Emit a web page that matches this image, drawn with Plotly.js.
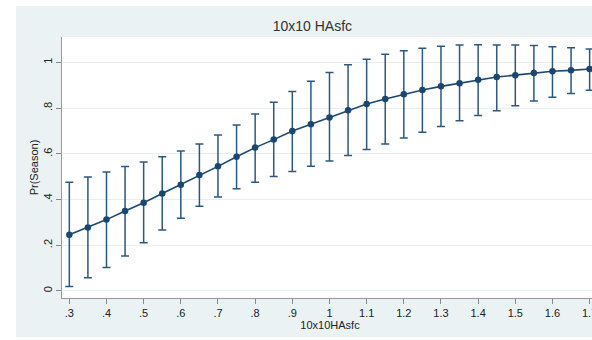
<!DOCTYPE html>
<html>
<head>
<meta charset="utf-8">
<script src="https://cdn.plot.ly/plotly-3.0.1.min.js"></script>
<style>
  html, body { margin: 0; padding: 0; background: #ffffff; overflow: hidden; width: 592px; height: 340px; }
  #chart { position: absolute; left: 16px; top: 6px; width: 624px; height: 331px; }
</style>
</head>
<body>
<div id="chart"></div>
<script>
// Predicted probability of Season across 10x10 HAsfc, with 95% confidence intervals
const hasfc = [0.3, 0.35, 0.4, 0.45, 0.5, 0.55, 0.6, 0.65, 0.7, 0.75, 0.8, 0.85, 0.9, 0.95, 1.0,
               1.05, 1.1, 1.15, 1.2, 1.25, 1.3, 1.35, 1.4, 1.45, 1.5, 1.55, 1.6, 1.65, 1.7];
const prSeason = [0.246, 0.278, 0.312, 0.350, 0.386, 0.426, 0.465, 0.507, 0.545, 0.587, 0.627, 0.662, 0.700, 0.729, 0.759,
                  0.790, 0.818, 0.840, 0.861, 0.879, 0.895, 0.909, 0.924, 0.936, 0.944, 0.953, 0.961, 0.965, 0.971];
const ciUpper = [0.475, 0.498, 0.520, 0.544, 0.564, 0.587, 0.612, 0.643, 0.682, 0.726, 0.774, 0.826, 0.872, 0.917, 0.956,
                 0.990, 1.014, 1.036, 1.051, 1.062, 1.071, 1.076, 1.077, 1.076, 1.076, 1.074, 1.068, 1.064, 1.058];
const ciLower = [0.019, 0.058, 0.102, 0.153, 0.211, 0.267, 0.318, 0.370, 0.411, 0.447, 0.475, 0.501, 0.522, 0.545, 0.568,
                 0.592, 0.619, 0.643, 0.669, 0.694, 0.719, 0.745, 0.767, 0.788, 0.810, 0.831, 0.847, 0.864, 0.878];

const xTickVals = [0.3, 0.4, 0.5, 0.6, 0.7, 0.8, 0.9, 1.0, 1.1, 1.2, 1.3, 1.4, 1.5, 1.6, 1.7];
const xTickText = ['.3', '.4', '.5', '.6', '.7', '.8', '.9', '1', '1.1', '1.2', '1.3', '1.4', '1.5', '1.6', '1.7'];
const yTickVals = [0, 0.2, 0.4, 0.6, 0.8, 1];
const yTickText = ['0', '.2', '.4', '.6', '.8', '1'];

const navy = '#1a476f';
const panel = '#eaf2f3';

const trace = {
  type: 'scatter',
  mode: 'lines+markers',
  x: hasfc,
  y: prSeason,
  line: { color: navy, width: 1.6 },
  marker: { color: navy, size: 6.5, symbol: 'circle' },
  error_y: {
    type: 'data',
    symmetric: false,
    array: ciUpper.map((u, i) => u - prSeason[i]),
    arrayminus: ciLower.map((l, i) => prSeason[i] - l),
    color: '#2c5880',
    thickness: 1.5,
    width: 4
  },
  hoverinfo: 'x+y'
};

const font = { family: 'Liberation Sans, Arial, sans-serif', color: '#222' };

const layout = {
  width: 624,
  height: 331,
  margin: { l: 46, r: 42, t: 31, b: 39, pad: 0 },
  paper_bgcolor: panel,
  plot_bgcolor: '#ffffff',
  showlegend: false,
  font: font,
  title: {
    text: '10x10 HAsfc',
    font: { family: font.family, size: 14, color: '#333' },
    x: 0.475, xanchor: 'center',
    y: 0.94, yanchor: 'middle', yref: 'container'
  },
  xaxis: {
    range: [0.2803, 1.7225],
    tickmode: 'array',
    tickvals: xTickVals,
    ticktext: xTickText,
    ticks: 'outside',
    ticklen: 5,
    tickcolor: '#888',
    tickfont: { family: font.family, size: 11, color: '#222' },
    showgrid: false,
    zeroline: false,
    showline: true,
    linecolor: '#999',
    linewidth: 1,
    title: { text: '10x10HAsfc', font: { family: font.family, size: 11, color: '#222' }, standoff: 2 }
  },
  yaxis: {
    range: [-0.031, 1.111],
    tickmode: 'array',
    tickvals: yTickVals,
    ticktext: yTickText,
    tickangle: -90,
    ticks: 'outside',
    ticklen: 5,
    tickcolor: '#888',
    tickfont: { family: font.family, size: 11, color: '#222' },
    showgrid: true,
    gridcolor: '#e8eff1',
    gridwidth: 1,
    zeroline: false,
    showline: true,
    linecolor: '#999',
    linewidth: 1,
    title: { text: 'Pr(Season)', font: { family: font.family, size: 11, color: '#222' }, standoff: 0 }
  }
};

Plotly.newPlot('chart', [trace], layout, { displayModeBar: false, staticPlot: true });
</script>
</body>
</html>
